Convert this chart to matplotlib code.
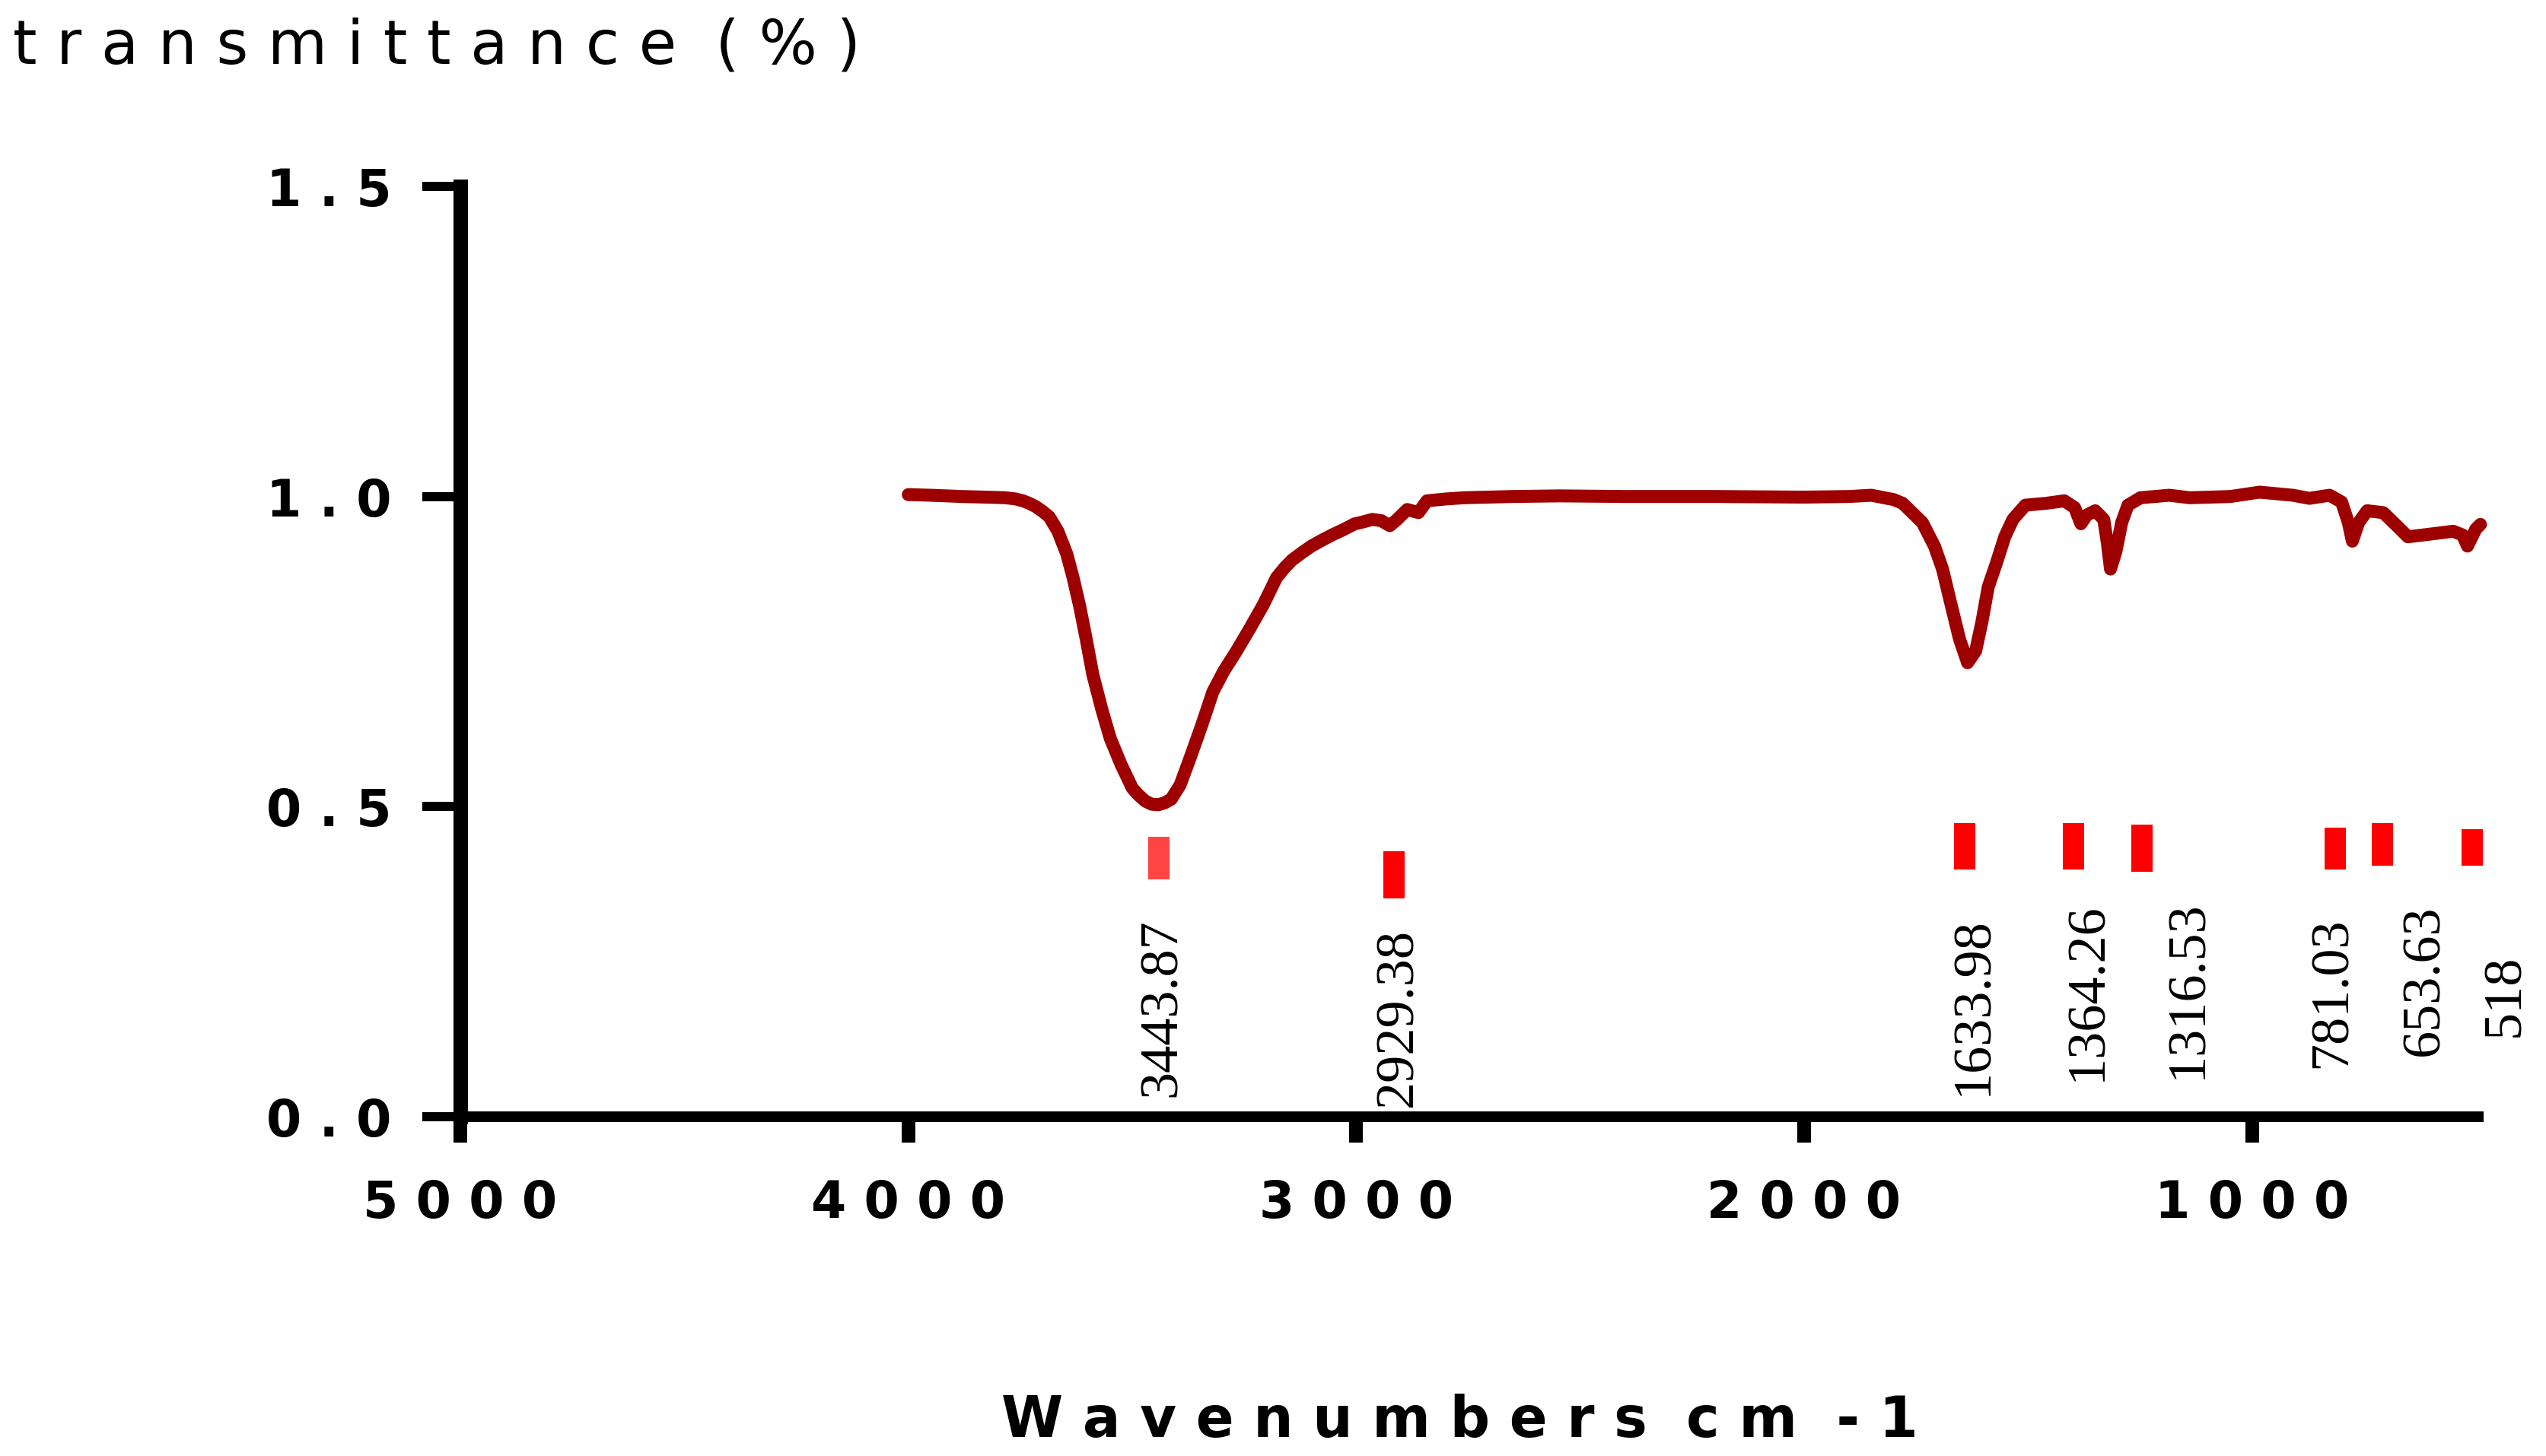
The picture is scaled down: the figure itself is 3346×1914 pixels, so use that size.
import matplotlib
matplotlib.use("Agg")
import matplotlib.pyplot as plt
from matplotlib.ticker import FixedLocator, FuncFormatter

W, H, DPI = 3346, 1914, 100

# ---------------- data ----------------
wavenumber = [4000, 3950, 3880, 3830, 3783, 3760, 3744, 3730, 3716, 3700, 3685, 3666,
              3646, 3632, 3617, 3603, 3588, 3568, 3549, 3525, 3500, 3485, 3471, 3457,
              3442, 3428, 3413, 3393, 3369, 3344, 3320, 3296, 3267, 3236, 3207, 3178,
              3160, 3144, 3120, 3100, 3075, 3051, 3030, 3003, 2990, 2964, 2944, 2925,
              2910, 2886, 2861, 2842, 2800, 2759, 2650, 2546, 2400, 2200, 2000, 1900,
              1850, 1800, 1780, 1763, 1736, 1709, 1691, 1672, 1653, 1635, 1617, 1603,
              1589, 1571, 1552, 1534, 1506, 1460, 1419, 1396, 1382, 1369, 1350, 1331,
              1323, 1316, 1304, 1291, 1277, 1249, 1185, 1139, 1048, 983, 909, 872, 827,
              800, 785, 776, 762, 743, 707, 670, 652, 606, 551, 530, 519, 500, 490]
transmittance = [1.003, 1.002, 1.000, 0.999, 0.998, 0.996, 0.993, 0.989, 0.984, 0.976, 0.967, 0.944,
                 0.907, 0.869, 0.822, 0.771, 0.713, 0.657, 0.610, 0.568, 0.530, 0.518, 0.509, 0.504,
                 0.503, 0.506, 0.512, 0.535, 0.582, 0.633, 0.685, 0.718, 0.751, 0.789, 0.826, 0.869,
                 0.885, 0.897, 0.910, 0.920, 0.930, 0.939, 0.946, 0.956, 0.958, 0.963, 0.961, 0.953,
                 0.962, 0.979, 0.974, 0.993, 0.996, 0.998, 1.000, 1.001, 1.000, 1.000, 0.999, 1.000,
                 1.002, 0.995, 0.989, 0.977, 0.958, 0.920, 0.883, 0.826, 0.770, 0.732, 0.751, 0.798,
                 0.854, 0.892, 0.935, 0.963, 0.986, 0.989, 0.993, 0.982, 0.956, 0.970, 0.977, 0.963,
                 0.925, 0.883, 0.911, 0.958, 0.986, 0.998, 1.002, 0.998, 1.000, 1.007, 1.002, 0.997, 1.002,
                 0.991, 0.958, 0.928, 0.958, 0.977, 0.974, 0.948, 0.935, 0.939, 0.944, 0.938, 0.920, 0.948, 0.955]

peak_labels = ["3443.87", "2929.38", "1633.98", "1364.26", "1316.53", "781.03", "653.63", "518"]
peak_marker_x = [3440, 2915, 1641, 1399, 1245, 815, 709, 509]
peak_marker_low = [0.383, 0.352, 0.398, 0.398, 0.395, 0.398, 0.405, 0.405]
peak_marker_high = [0.4515, 0.428, 0.474, 0.474, 0.471, 0.466, 0.474, 0.464]
peak_label_x = [3433, 2905, 1622, 1367, 1143, 820, 614, 434]
peak_label_y = [0.032, 0.016, 0.034, 0.058, 0.061, 0.079, 0.098, 0.129]

x_ticks = [5000, 4000, 3000, 2000, 1000]
y_ticks = [0.0, 0.5, 1.0, 1.5]

y_title = "transmittance (%)"
x_title = "Wavenumbers cm -1"

# ---------------- styles ----------------
LINE_COLOR = "#9E0000"
marker_colors = ["#FF4444"] + ["#FF0000"] * 7
PX = 72.0 / DPI  # points per pixel


def spaced(s, gap=" "):
    """Letter-spaced version of a string (words separated by a double gap)."""
    return (gap * 2).join(gap.join(word) for word in s.split(" "))


fig = plt.figure(figsize=(W / DPI, H / DPI), dpi=DPI)
ax = fig.add_axes([605 / W, 1 - 1468 / H, (3264 - 605) / W, (1468 - 245) / H])
ax.set_xlim(5000, 483)
ax.set_ylim(0, 1.5)

ax.plot(wavenumber, transmittance, color=LINE_COLOR, lw=17 * PX,
        solid_capstyle="round", solid_joinstyle="round", clip_on=False, zorder=3)

heights = [h - l for h, l in zip(peak_marker_high, peak_marker_low)]
ax.bar(peak_marker_x, heights, bottom=peak_marker_low, width=47.5,
       color=marker_colors, linewidth=0, zorder=2)

for lab, lx, ly in zip(peak_labels, peak_label_x, peak_label_y):
    ax.text(lx, ly, lab, rotation=90, ha="center", va="bottom",
            family="Liberation Serif", fontsize=52, color="black", clip_on=False)

for s in ["top", "right"]:
    ax.spines[s].set_visible(False)
ax.spines["left"].set_linewidth(19 * PX)
ax.spines["bottom"].set_linewidth(14 * PX)
ax.spines["bottom"].set_capstyle("butt")

ax.xaxis.set_major_locator(FixedLocator(x_ticks))
ax.yaxis.set_major_locator(FixedLocator(y_ticks))
ax.xaxis.set_major_formatter(FuncFormatter(lambda v, p: " ".join(f"{v:.0f}")))
ax.yaxis.set_major_formatter(FuncFormatter(lambda v, p: " ".join(f"{v:.1f}")))
ax.tick_params(axis="x", direction="out", length=34 * PX, width=18 * PX, pad=34,
               labelsize=48, colors="black")
ax.tick_params(axis="y", direction="out", length=50 * PX, width=12 * PX, pad=29,
               labelsize=48, colors="black")
for lab in ax.get_xticklabels() + ax.get_yticklabels():
    lab.set_family("DejaVu Sans")
    lab.set_fontweight("bold")

fig.text(17 / W, 1 - 84 / H, spaced(y_title), family="DejaVu Sans",
         fontsize=58, ha="left", va="baseline")
fig.text(1918 / W, 1 - 1889 / H, spaced(x_title), family="DejaVu Sans",
         fontweight="bold", fontsize=53, ha="center", va="baseline")

fig.savefig("out.png", dpi=DPI, facecolor="white")
